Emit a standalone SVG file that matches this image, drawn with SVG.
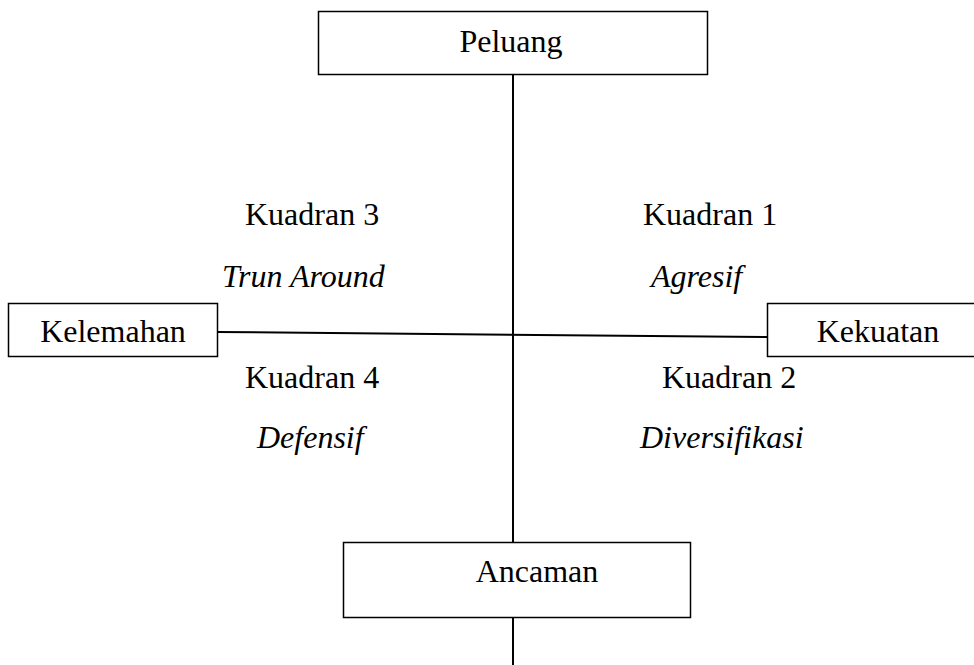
<svg xmlns="http://www.w3.org/2000/svg" width="974" height="665" viewBox="0 0 974 665">
<style>
.box{fill:#fff;stroke:#000;stroke-width:1.5}
.ln{stroke:#000;stroke-width:2;fill:none}
text{font-family:"Liberation Serif","Times New Roman",serif;font-size:32px;fill:#000}
.it{font-style:italic}
</style>
<rect width="974" height="665" fill="#fff"/>
<g id="connectors">
<line class="ln" x1="513" y1="74" x2="513" y2="542"/>
<line class="ln" x1="513" y1="617" x2="513" y2="665"/>
<line class="ln" x1="217" y1="332" x2="767" y2="337"/>
</g>
<g id="peluang"><rect class="box" x="318.5" y="11.5" width="389" height="63"/><text x="511" y="52" text-anchor="middle">Peluang</text></g>
<g id="kelemahan"><rect class="box" x="8.5" y="303.5" width="209" height="53"/><text x="113" y="342" text-anchor="middle">Kelemahan</text></g>
<g id="kekuatan"><rect class="box" x="767.5" y="303.5" width="210" height="53"/><text x="878" y="342" text-anchor="middle">Kekuatan</text></g>
<g id="ancaman"><rect class="box" x="343.5" y="542.5" width="347" height="75"/><text x="537" y="582" text-anchor="middle">Ancaman</text></g>
<g id="kuadran3"><text x="245" y="225">Kuadran 3</text><text class="it" x="222" y="287">Trun Around</text></g>
<g id="kuadran1"><text x="643" y="225">Kuadran 1</text><text class="it" x="651" y="287">Agresif</text></g>
<g id="kuadran4"><text x="245" y="388">Kuadran 4</text><text class="it" x="257" y="448">Defensif</text></g>
<g id="kuadran2"><text x="662" y="388">Kuadran 2</text><text class="it" x="640" y="448">Diversifikasi</text></g>
</svg>
